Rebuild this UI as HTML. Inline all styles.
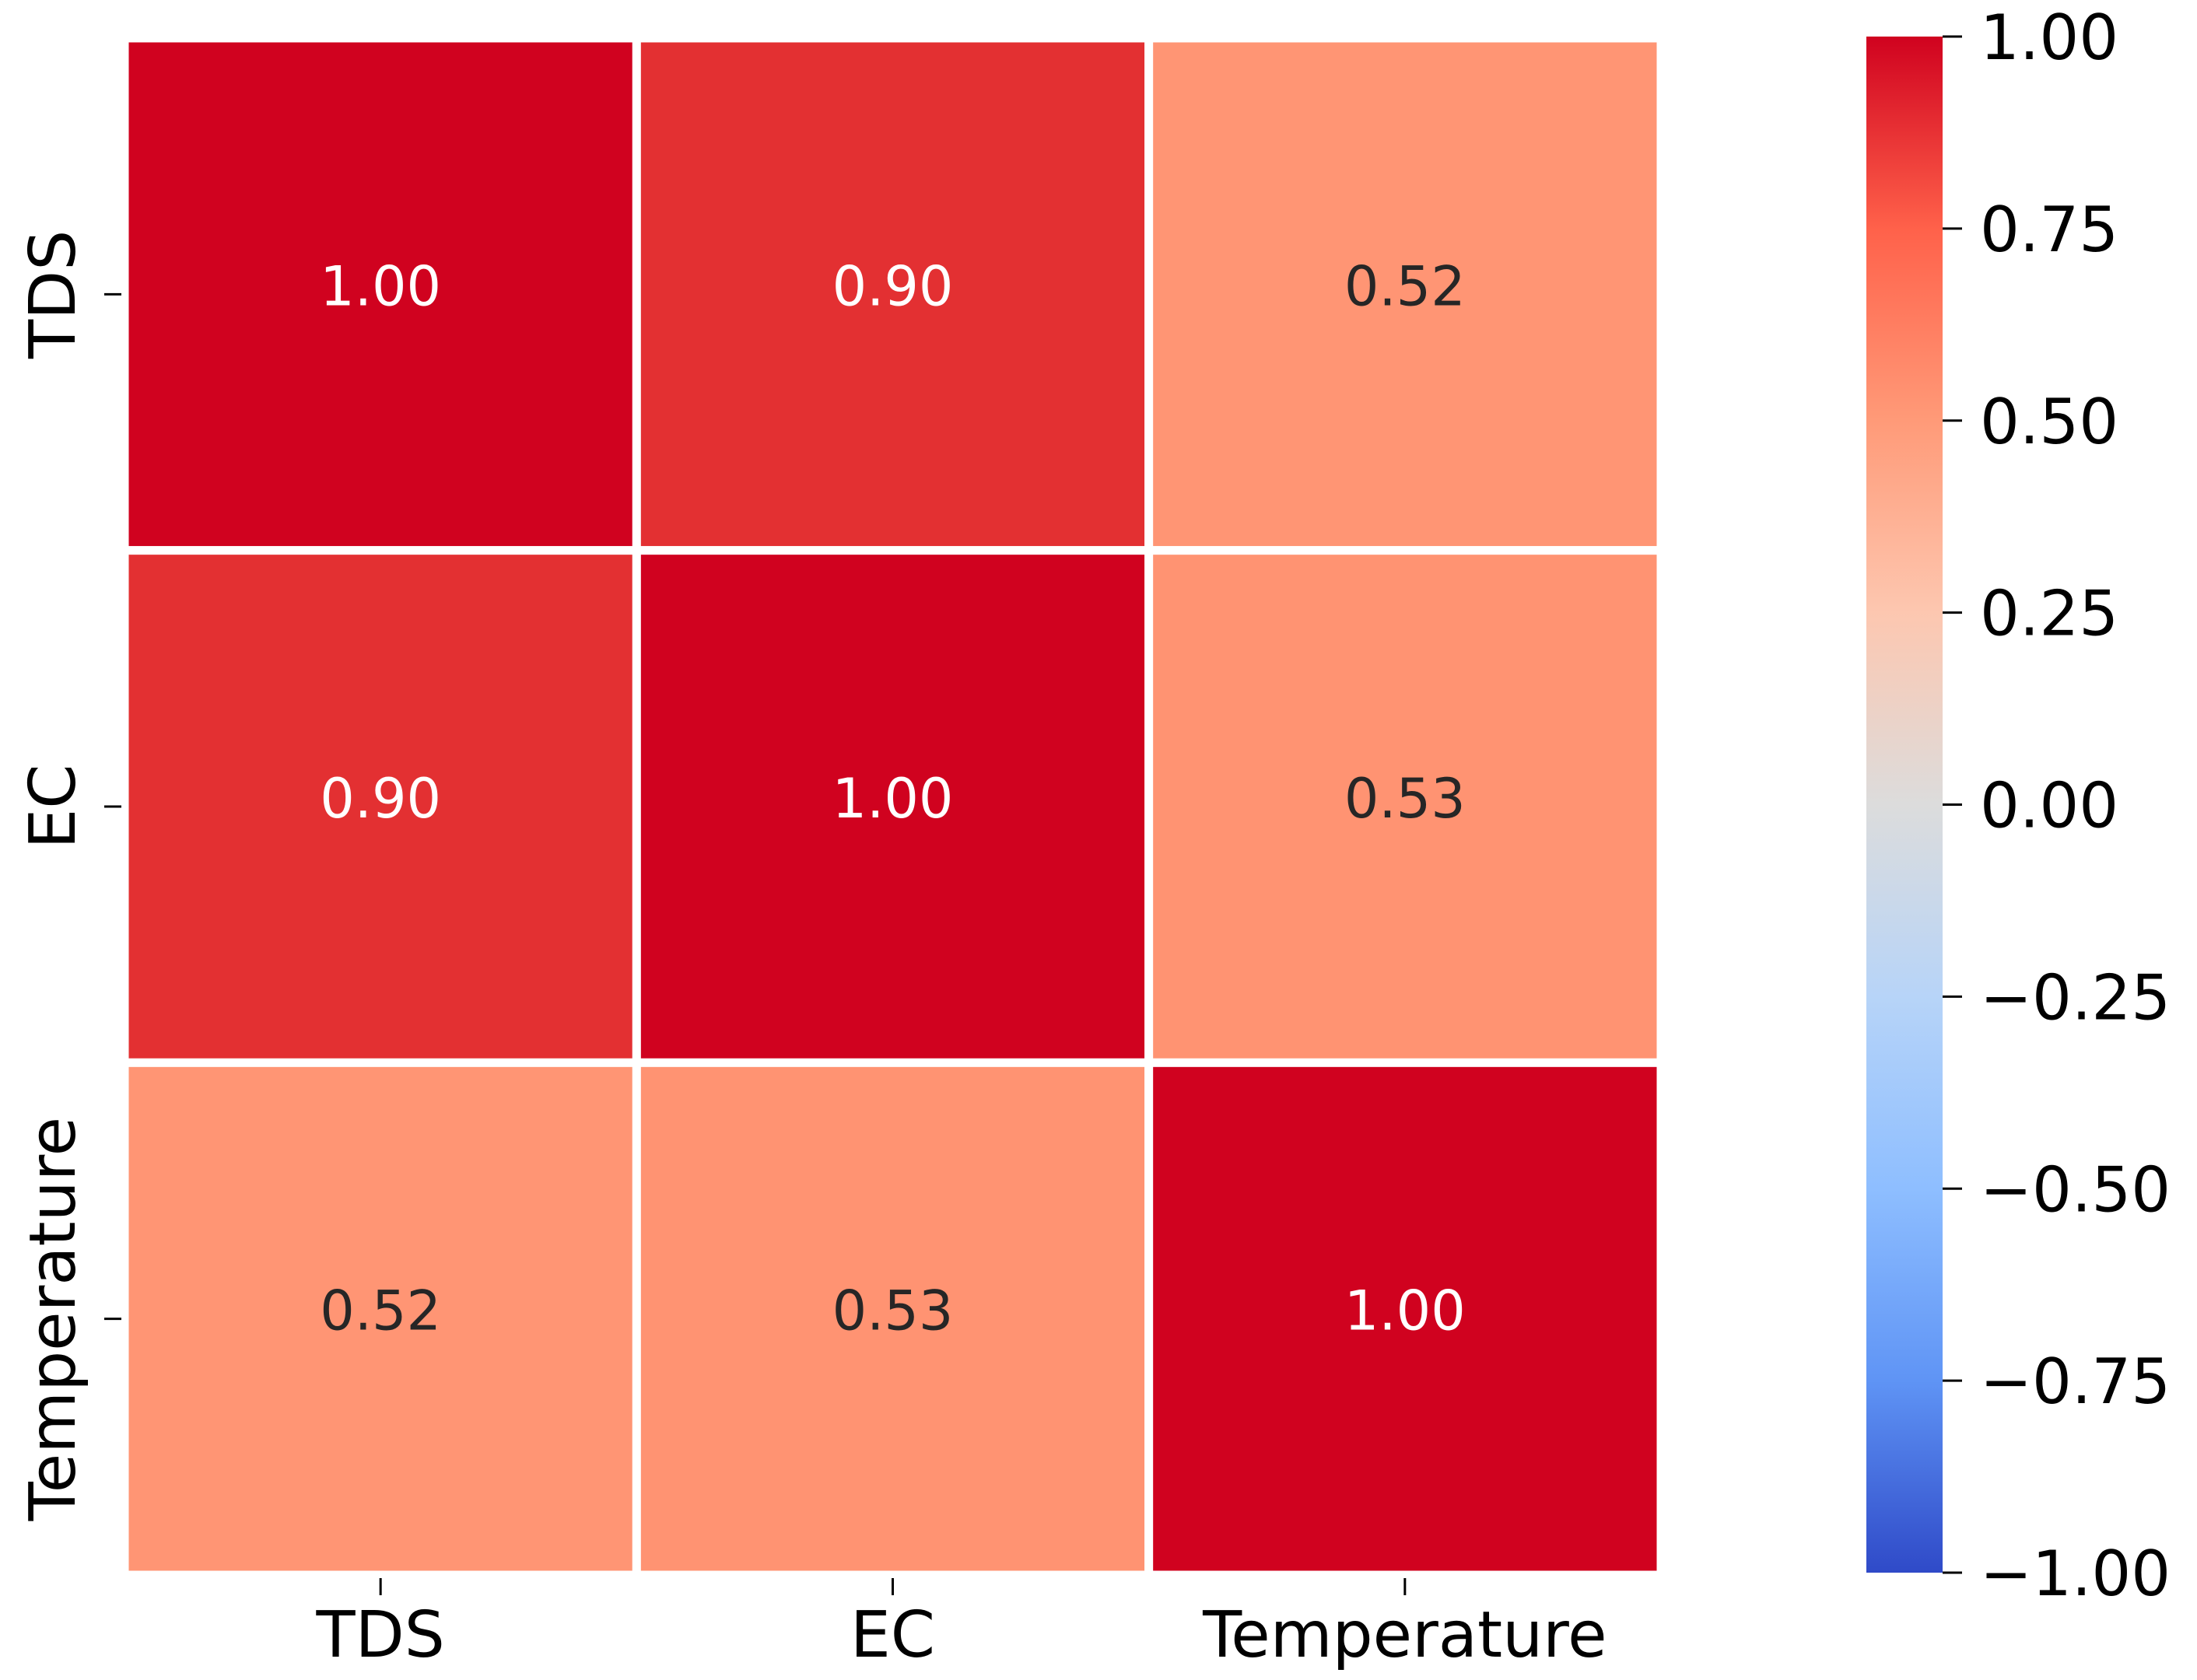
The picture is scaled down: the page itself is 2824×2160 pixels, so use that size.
<!DOCTYPE html>
<html><head><meta charset="utf-8"><style>
html,body{margin:0;padding:0;background:#fff;}
svg{display:block;font-family:"DejaVu Sans","Liberation Sans",sans-serif;}
</style></head><body>
<svg id="chart" xmlns="http://www.w3.org/2000/svg" width="2824" height="2160" viewBox="0 0 2824 2160">
<defs>
<linearGradient id="cbgrad" x1="0" y1="1" x2="0" y2="0">
<stop offset="0" stop-color="#2f4ac8"/>
<stop offset="0.125" stop-color="#5f94f5"/>
<stop offset="0.25" stop-color="#8ebeff"/>
<stop offset="0.375" stop-color="#b7d4f8"/>
<stop offset="0.5" stop-color="#dcdcdc"/>
<stop offset="0.625" stop-color="#fdc7b0"/>
<stop offset="0.75" stop-color="#ff9a78"/>
<stop offset="0.875" stop-color="#ff614a"/>
<stop offset="1" stop-color="#d0021f"/>
</linearGradient>
</defs>
<g id="cells"></g>
<g id="axes"></g>
<rect x="2399" y="47" width="98" height="1975" fill="url(#cbgrad)"/>
<g id="cbticks"></g>
</svg>
<script>
const rowLabels = ["TDS", "EC", "Temperature"];
const colLabels = ["TDS", "EC", "Temperature"];
const row0 = [1.00, 0.90, 0.52];
const row1 = [0.90, 1.00, 0.53];
const row2 = [0.52, 0.53, 1.00];
const cbTicks = [1.00, 0.75, 0.50, 0.25, 0.00, -0.25, -0.50, -0.75, -1.00];
const cbTickLabels = ["1.00","0.75","0.50","0.25","0.00","\u22120.25","\u22120.50","\u22120.75","\u22121.00"];
const matrix = [row0, row1, row2];

const NS = "http://www.w3.org/2000/svg";
const X0 = 160, X1 = 2135, Y0 = 49, Y1 = 2025;
const cw = (X1 - X0) / colLabels.length, ch = (Y1 - Y0) / rowLabels.length;
const xPos = i => X0 + i * cw;
const yPos = j => Y0 + j * ch;
const CB_TOP = 47, CB_BOT = 2022;
const cbY = v => CB_BOT - (v + 1) / 2 * (CB_BOT - CB_TOP);

const stops = [[-1,[47,74,200]],[-0.75,[95,148,245]],[-0.5,[142,190,255]],[-0.25,[183,212,248]],[0,[220,220,220]],[0.25,[253,199,176]],[0.5,[255,154,120]],[0.75,[255,97,74]],[0.9,[227,48,50]],[1,[208,2,31]]];
function color(v){
  for(let k=0;k<stops.length-1;k++){
    const a=stops[k],b=stops[k+1];
    if(v>=a[0]&&v<=b[0]){const t=(v-a[0])/(b[0]-a[0]);
      const c=a[1].map((x,i)=>Math.round(x+(b[1][i]-x)*t));
      return "rgb("+c.join(",")+")";}
  }
  return "rgb(208,2,31)";
}
function mk(tag, attrs, parent){const e=document.createElementNS(NS,tag);for(const k in attrs)e.setAttribute(k,attrs[k]);parent.appendChild(e);return e;}

const cells=document.getElementById("cells");
matrix.forEach((row,j)=>{row.forEach((v,i)=>{
  const r=mk("rect",{x:xPos(i),y:yPos(j),width:cw,height:ch,fill:color(v),stroke:"#fff","stroke-width":11},cells);
  
  
  const t=mk("text",{x:xPos(i)+cw/2,y:yPos(j)+ch/2+14,"text-anchor":"middle","font-size":70,fill:v>0.7?"#ffffff":"#262626"},cells);
  t.textContent=v.toFixed(2);
  
  
});});

const axes=document.getElementById("axes");
colLabels.forEach((lab,i)=>{
  const cx=xPos(i)+cw/2;
  const tk=mk("line",{x1:cx,y1:Y1+4,x2:cx,y2:Y1+26,stroke:"#000","stroke-width":3},axes);
  
  
  const t=mk("text",{x:cx,y:2130,"text-anchor":"middle","font-size":82,fill:"#000"},axes);
  t.textContent=lab;
  
  
});
rowLabels.forEach((lab,j)=>{
  const cy=yPos(j)+ch/2;
  const tk=mk("line",{x1:X0-26,y1:cy,x2:X0-4,y2:cy,stroke:"#000","stroke-width":3},axes);
  
  
  const t=mk("text",{x:96,y:cy,"text-anchor":"middle","font-size":82,fill:"#000",transform:"rotate(-90 96 "+cy+")"},axes);
  t.textContent=lab;
  
  
});

const cbt=document.getElementById("cbticks");
cbTicks.forEach((v,k)=>{
  const y=cbY(v);
  const tk=mk("line",{x1:2497,y1:y,x2:2522,y2:y,stroke:"#000","stroke-width":3},cbt);
  
  
  const t=mk("text",{x:2545,y:y+29,"font-size":80,fill:"#000"},cbt);
  t.textContent=cbTickLabels[k];
  
  
});
</script>
</body></html>
